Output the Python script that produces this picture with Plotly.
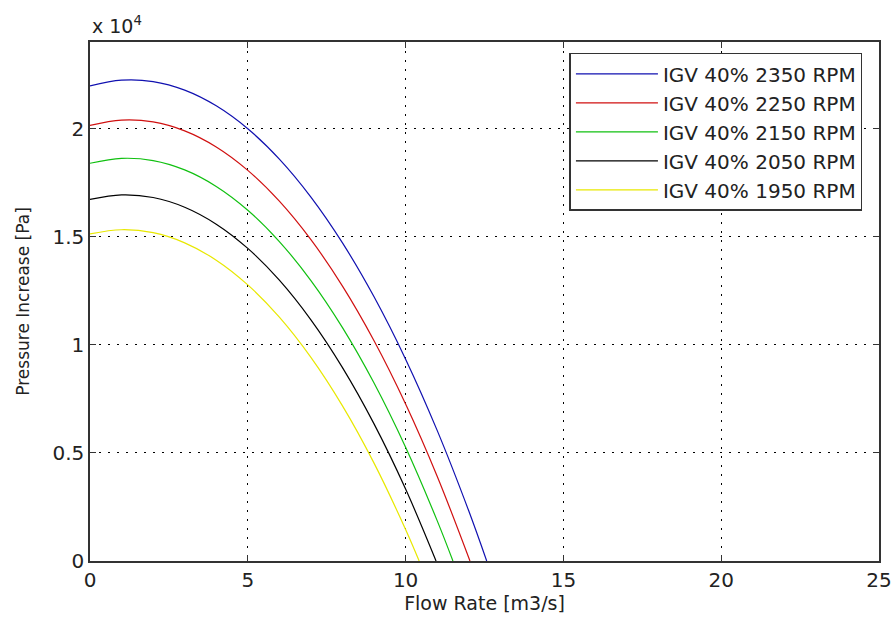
import plotly.graph_objects as go

# Flow rate [m3/s] and pressure increase [Pa]
q_2350 = [0, 1, 2, 3, 4, 5, 6, 7, 8, 9, 10, 11, 12, 12.57]
p_2350 = [21973, 22235, 22170, 21775, 21049, 19988, 18584, 16829, 14711, 12217, 9333, 6040, 2321, 0]

q_2250 = [0, 1, 2, 3, 4, 5, 6, 7, 8, 9, 10, 11, 12.04]
p_2250 = [20143, 20387, 20304, 19891, 19147, 18065, 16639, 14859, 12713, 10186, 7261, 3921, 0]

q_2150 = [0, 1, 2, 3, 4, 5, 6, 7, 8, 9, 10, 11, 11.5]
p_2150 = [18392, 18618, 18516, 18086, 17322, 16221, 14773, 12967, 10791, 8229, 5260, 1867, 0]

q_2050 = [0, 1, 2, 3, 4, 5, 6, 7, 8, 9, 10, 10.965]
p_2050 = [16721, 16929, 16808, 16360, 15577, 14455, 12984, 11151, 8943, 6341, 3327, 0]

q_1950 = [0, 1, 2, 3, 4, 5, 6, 7, 8, 9, 10, 10.43]
p_1950 = [15129, 15319, 15181, 14713, 13911, 12768, 11274, 9413, 7171, 4526, 1458, 0]

series_names = ["IGV 40% 2350 RPM", "IGV 40% 2250 RPM", "IGV 40% 2150 RPM",
                "IGV 40% 2050 RPM", "IGV 40% 1950 RPM"]
series_q = [q_2350, q_2250, q_2150, q_2050, q_1950]
series_p = [p_2350, p_2250, p_2150, p_2050, p_1950]
colors = ["#1010b0", "#d01010", "#10c010", "#000000", "#e8e800"]

x_ticks = [0, 5, 10, 15, 20, 25]
y_tickvals = [0, 5000, 10000, 15000, 20000]
y_ticktext = ["0", "0.5", "1", "1.5", "2"]

fig = go.Figure()
for name, q, p, c in zip(series_names, series_q, series_p, colors):
    fig.add_trace(go.Scatter(x=q, y=p, mode="lines", name=name,
                             line=dict(color=c, width=1.2, shape="spline", smoothing=1.0)))

font_family = "DejaVu Sans"
axis_common = dict(
    showline=True, linecolor="#333333", linewidth=1.5, mirror="ticks",
    ticks="inside", ticklen=6, tickcolor="#333333", tickwidth=1.2,
    showgrid=True, gridcolor="#000000", gridwidth=1, griddash="2px,7px",
    zeroline=False, tickfont=dict(family=font_family, size=20, color="#222222"),
)

fig.update_layout(
    width=894, height=618,
    margin=dict(l=90, r=15, t=42, b=57, autoexpand=False),
    paper_bgcolor="white", plot_bgcolor="white",
    font=dict(family=font_family, color="#222222"),
    xaxis=dict(range=[0, 25], tickvals=x_ticks, **axis_common,
               title=dict(text="Flow Rate [m3/s]", font=dict(size=19, family=font_family), standoff=2)),
    yaxis=dict(range=[0, 24000], tickvals=y_tickvals, ticktext=y_ticktext, **axis_common,
               title=dict(text="Pressure Increase [Pa]", font=dict(size=17, family=font_family), standoff=18)),
    legend=dict(x=0.979, xanchor="right", y=0.979, yanchor="top",
                bgcolor="white", bordercolor="#333333", borderwidth=1.5,
                font=dict(family=font_family, size=20, color="#222222"),
                itemwidth=82, tracegroupgap=0),
    showlegend=True,
    annotations=[dict(text="x 10<sup>4</sup>", xref="paper", yref="paper",
                      x=0, y=1.0, xanchor="left", yanchor="bottom", yshift=3,
                      showarrow=False, font=dict(family=font_family, size=19, color="#222222"))],
)

fig.write_html("out.html")
